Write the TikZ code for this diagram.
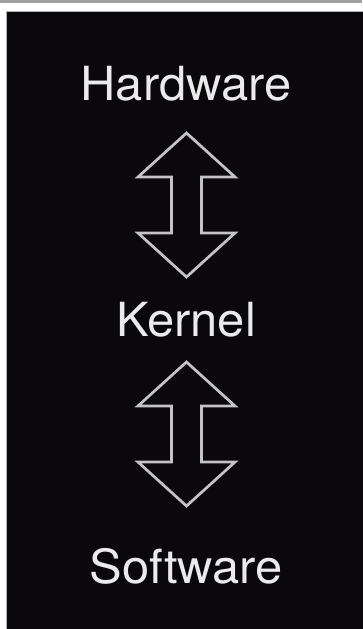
\documentclass[tikz,border=0pt]{standalone}
\usepackage{fontspec}
\setmainfont{TeX Gyre Heros}
\usepackage{tikz}
\usetikzlibrary{calc}
\usepackage{xcolor}
\definecolor{slate}{HTML}{0A080C}
\definecolor{chalk}{HTML}{C4C4C4}

\begin{document}
\begin{tikzpicture}[x=1pt, y=-1pt,
    layer/.style={anchor=base, text=white!92!black, font=\fontsize{47}{52}\selectfont, xscale=1.04, inner sep=0pt},
    updown/.pic={
        \draw[chalk, line width=2.7pt, line join=miter]
            (0,-72) -- (48.5,-28) -- (15,-28) -- (15,28) -- (48.5,28) -- (0,72)
            -- (-48.5,28) -- (-15,28) -- (-15,-28) -- (-48.5,-28) -- cycle;
    }]
    \useasboundingbox (0,0) rectangle (362,629);
    \fill[white] (0,0) rectangle (362,629);
    \fill[gray!75] (0,0) rectangle (362,2.5);

    % Board
    \draw[fill=slate, draw=gray!60, line width=0.8pt] (6.5,11) rectangle (363,630);

    % Labels
    \node[layer] (hw) at (186,100) {Hardware};
    \node[layer] (kn) at (186,336) {Kernel};
    \node[layer] (sw) at (186,583) {Software};

    % Arrows between the layers
    \coordinate (up) at (186.5,205);
    \coordinate (down) at (186.5,434);
    \pic at (up) {updown};
    \pic at (down) {updown};
\end{tikzpicture}
\end{document}
